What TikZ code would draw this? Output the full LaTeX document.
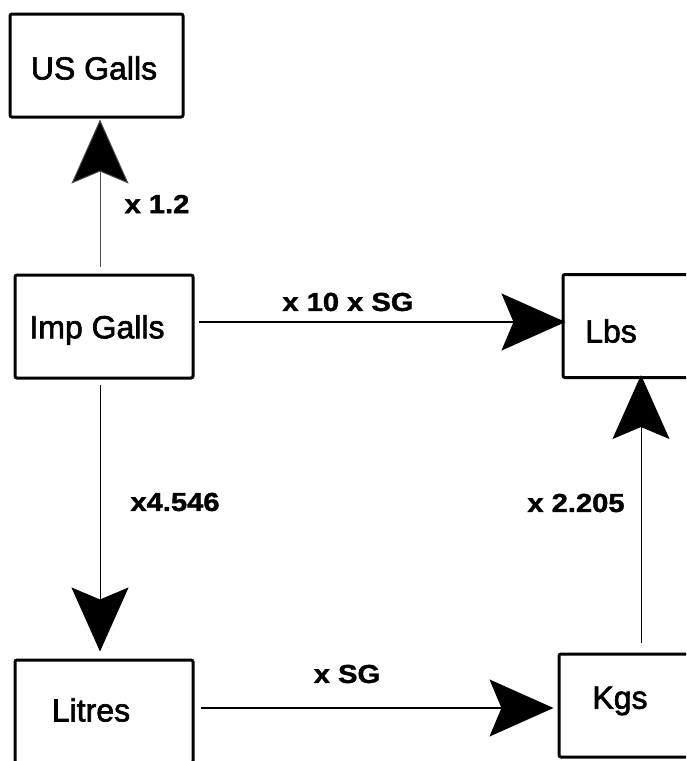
\documentclass[tikz,border=0pt]{standalone}
\usepackage{fontspec}
\setmainfont{Liberation Sans}
\newfontfamily\boxfont[UprightFeatures={FakeBold=2}]{Liberation Sans}
\newfontfamily\lblfont[FakeStretch=1.12,BoldFeatures={FakeBold=1.5}]{Liberation Sans}
\usetikzlibrary{arrows.meta,calc}
\tikzset{
  box/.style={draw=black, line width=3pt, rounded corners=2pt, minimum width=#1, minimum height=103pt, inner sep=0pt},
  box/.default=178pt,
  boxtext/.style={font=\boxfont\fontsize{32}{38}\selectfont, inner sep=0pt, anchor=center},
  conv/.style={font=\lblfont\bfseries\fontsize{26}{30}\selectfont, inner sep=0pt, anchor=center},
  flow/.style={draw=black, line width=1.4pt, -{Stealth[length=64pt,width=57pt,inset=12pt,fill=black]}},
  vflow/.style={flow, line width=1pt}
}
\begin{document}
\begin{tikzpicture}[x=1pt,y=-1pt]
\useasboundingbox (0,0) rectangle (686,761);
\clip (0,0) rectangle (686,761);
% boxes
\node[box=173pt] (us) at (96.5,65.5) {};
\node[box] (imp) at (104,326.5) {};
\node[box] (lbs) at (652,326) {};
\node[box] (lit) at (104,711.5) {};
\node[box] (kgs) at (648,705.5) {};
% box texts
\node[boxtext] (ustext) at (94,68) {US Galls};
\node[boxtext] (imptext) at (97,330) {Imp Galls};
\node[boxtext] (lbstext) at (611,331) {Lbs};
\node[boxtext] (littext) at (91,710) {Litres};
\node[boxtext] (kgstext) at (620,701) {Kgs};
% connectors
\draw[vflow, draw=black!70] ($(imp.north)+(-4,-7)$) -- ($(us.south)+(3.5,1)$);
\draw[vflow] ($(imp.south)+(-4,5)$) -- ($(lit.north)+(-4,-7)$);
\draw[flow] ($(imp.east)+(4,-4.5)$) -- ($(lbs.west)+(4,-4)$);
\draw[flow] ($(lit.east)+(6,-3.5)$) -- ($(kgs.west)+(-4,2.5)$);
\draw[vflow] ($(kgs.north)+(-7,-10)$) -- ($(lbs.south)+(-11,-4)$);
% labels
\node[conv] (l12) at (157,204) {x 1.2};
\node[conv] (l10) at (348,302) {x 10 x SG};
\node[conv] (l4546) at (175,502) {x4.546};
\node[conv] (l2205) at (576,503) {x 2.205};
\node[conv] (lsg) at (347,674) {x SG};
\end{tikzpicture}
\end{document}
